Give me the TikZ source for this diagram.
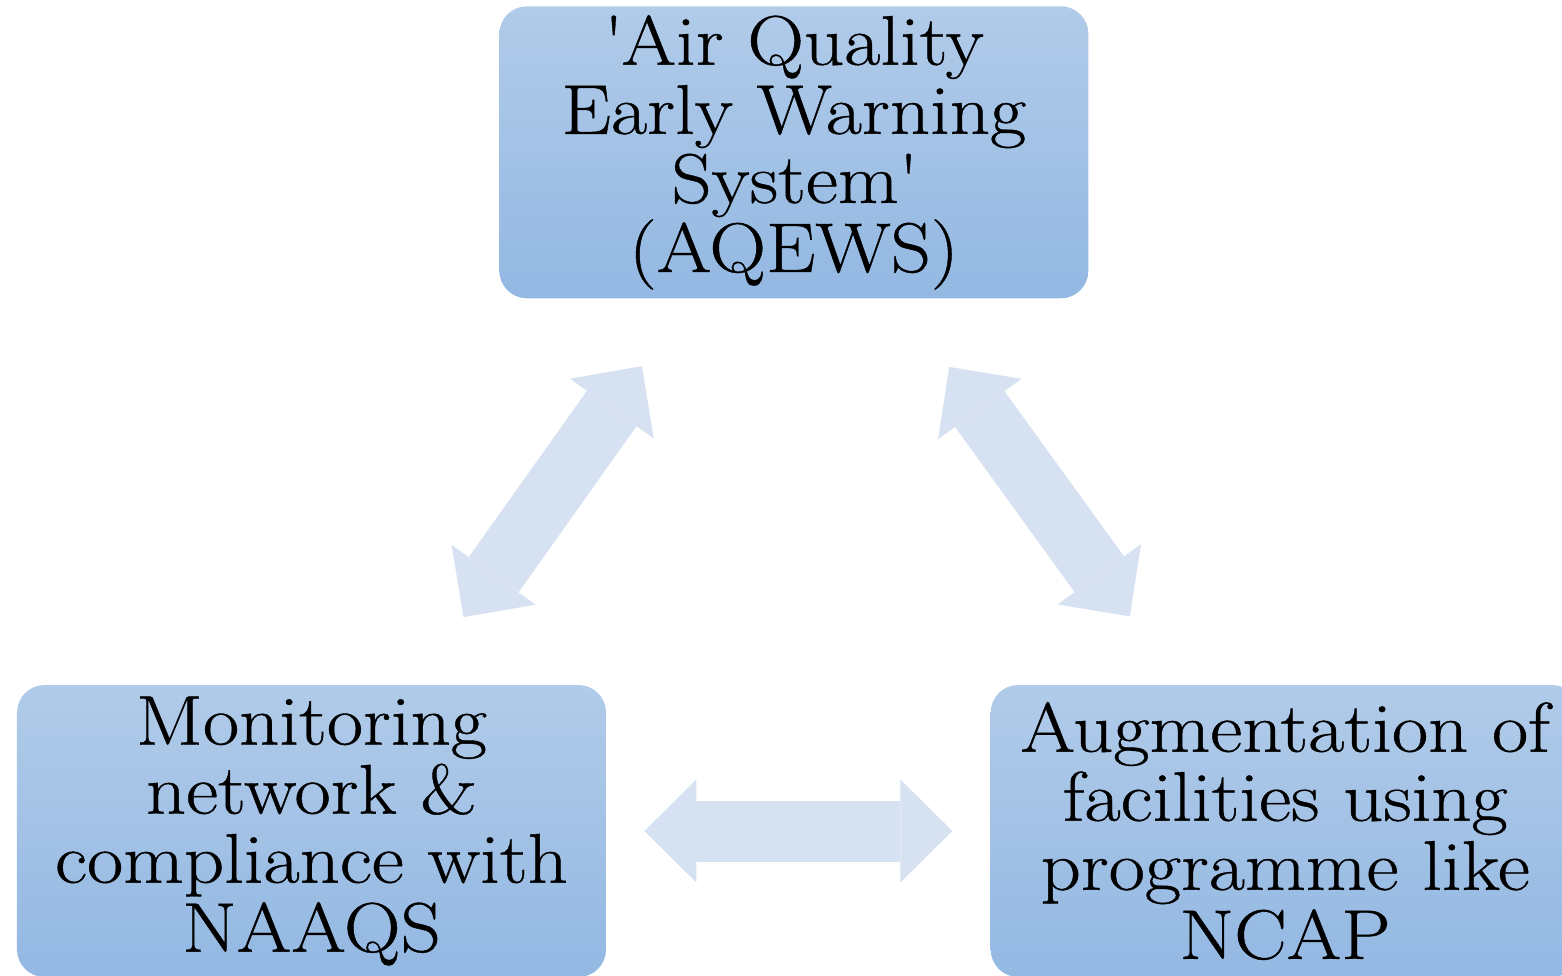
\documentclass[tikz,border=0pt]{standalone}
\usepackage{fontspec}
\setmainfont{Latin Modern Roman}[FakeStretch=1.12,FakeBold=0.6]
\usepackage{tikz}
\usetikzlibrary{shapes,arrows,arrows.meta,positioning,calc}
\definecolor{boxtop}{HTML}{B1CBE9}
\definecolor{boxbot}{HTML}{93B8E2}
\definecolor{flowcol}{HTML}{D6E1F2}
\tikzset{
    block/.style = {rectangle,
                    rounded corners=0.55cm,
                    top color=boxtop,
                    bottom color=boxbot,
                    minimum height=5.84cm,
                    minimum width=11.78cm,
                    inner sep=0pt,
                    align=center,
                    font=\fontsize{40}{39.3}\selectfont
    },
    flow/.style = {draw=flowcol,
                   line width=1.22cm,
                   {Triangle[length=1.04cm,width=2.06cm,line width=0pt]}-{Triangle[length=1.04cm,width=2.06cm,line width=0pt]}
    }
}

\begin{document}
\begin{tikzpicture}[auto]
    \useasboundingbox (0,0) rectangle (31.24,19.5);

    \node [block]                          (monitor) at (6.23,2.88) {Monitoring\\network \&\\compliance with\\NAAQS};
    \node [block,right=7.68cm of monitor]  (augment) {Augmentation of\\facilities using\\programme like\\NCAP};
    \coordinate (mid) at ($(monitor.north)!0.5!(augment.north)$);
    \node [block,above=7.72cm of mid,xshift=-0.09cm] (aqews) {\textquotesingle Air Quality\\Early Warning\\System\textquotesingle\\(AQEWS)};

    \draw[flow] ($(monitor)!0.5!(aqews)!3.08cm!(monitor)$)   -- ($(monitor)!0.5!(aqews)!3.08cm!(aqews)$);
    \draw[flow] ($(aqews)!0.5!(augment)!3.08cm!(aqews)$)     -- ($(aqews)!0.5!(augment)!3.08cm!(augment)$);
    \draw[flow] ($(monitor)!0.5!(augment)!3.08cm!(monitor)$) -- ($(monitor)!0.5!(augment)!3.08cm!(augment)$);
\end{tikzpicture}
\end{document}
